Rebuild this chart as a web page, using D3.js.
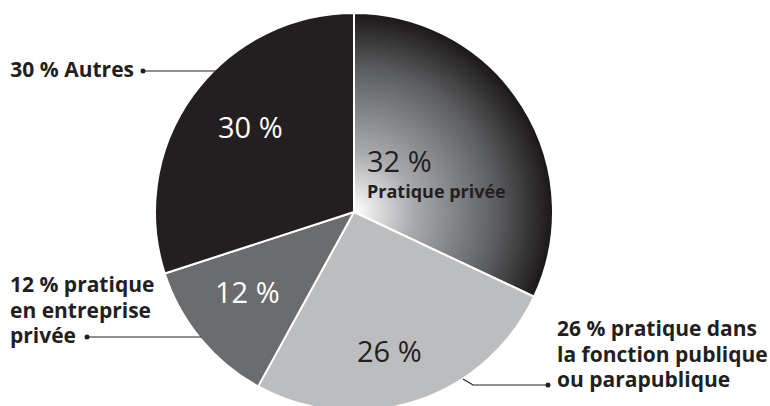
<!DOCTYPE html>
<html>
<head>
<meta charset="utf-8">
<script src="https://cdn.jsdelivr.net/npm/d3@7"></script>
<style>
  body { margin: 0; background: #fff; }
  svg text { font-family: "Open Sans", "Noto Sans", sans-serif; fill: #231f20; }
</style>
</head>
<body>
<svg id="chart" width="770" height="406"></svg>
<script>
// slice data, clockwise from 12 o'clock
var categories = ["Pratique privée", "Fonction publique ou parapublique", "Entreprise privée", "Autres"];
var values = [32, 26, 12, 30];
var sliceColors = ["url(#grad32)", "#bcbdbf", "#6b6c6e", "#231f20"];
var innerLabels = ["32 %", "26 %", "12 %", "30 %"];
var innerColors = ["#231f20", "#231f20", "#ffffff", "#ffffff"];

// outer callout texts
var calloutAutres = ["30 % Autres"];
var calloutEntreprise = ["12 % pratique", "en entreprise", "privée"];
var calloutPublique = ["26 % pratique dans", "la fonction publique", "ou parapublique"];

var svg = d3.select("#chart");
var cx = 354, cy = 212, radius = 199;

var defs = svg.append("defs");
// gradient lives in the translated group's space, so centre is 0,0
var grad = defs.append("radialGradient")
    .attr("id", "grad32")
    .attr("gradientUnits", "userSpaceOnUse")
    .attr("cx", 0).attr("cy", 0).attr("r", radius)
    .attr("fx", 0).attr("fy", 0);
grad.append("stop").attr("offset", "0").attr("stop-color", "#ffffff");
grad.append("stop").attr("offset", "0.3").attr("stop-color", "#a9aaac");
grad.append("stop").attr("offset", "0.72").attr("stop-color", "#5c5d5f");
grad.append("stop").attr("offset", "1").attr("stop-color", "#1a1718");

var pie = d3.pie().sort(null).value(function (d) { return d; });
var arc = d3.arc().innerRadius(0).outerRadius(radius);

var g = svg.append("g").attr("transform", "translate(" + cx + "," + cy + ")");

g.selectAll("path.slice")
    .data(pie(values))
    .enter().append("path")
    .attr("class", "slice")
    .attr("d", arc)
    .attr("fill", function (d, i) { return sliceColors[i]; })
    .attr("stroke", "#fff")
    .attr("stroke-width", 2)
    .attr("stroke-linejoin", "round");

// labels inside the slices
var innerPos = [[13, -40], [3, 150], [-139, 91], [-136, -74]];
g.selectAll("text.inner")
    .data(innerLabels)
    .enter().append("text")
    .attr("class", "inner")
    .attr("x", function (d, i) { return innerPos[i][0]; })
    .attr("y", function (d, i) { return innerPos[i][1]; })
    .style("fill", function (d, i) { return innerColors[i]; })
    .style("font-size", "29px")
    .style("font-weight", 500)
    .text(function (d) { return d; });

g.append("text")
    .attr("x", 13).attr("y", -14)
    .style("font-size", "18px")
    .style("font-weight", 700)
    .text(categories[0]);

// x on the circle edge at a given height
function edgeX(y, side) {
    var dy = y - cy;
    return cx + side * Math.sqrt(radius * radius - dy * dy);
}

function callout(lines, x, y0, anchor) {
    var t = svg.append("text")
        .attr("x", x).attr("y", y0)
        .attr("text-anchor", anchor)
        .style("font-size", "21px")
        .style("font-weight", 700);
    lines.forEach(function (l, i) {
        t.append("tspan").attr("x", x).attr("dy", i == 0 ? 0 : 25.5).text(l);
    });
}

var line = d3.line();

// Autres
callout(calloutAutres, 134, 77, "end");
svg.append("path")
    .attr("d", line([[143, 71], [edgeX(71, -1) + 2, 71]]))
    .attr("stroke", "#231f20").attr("fill", "none").attr("stroke-width", 1.2);
svg.append("circle").attr("cx", 143).attr("cy", 71).attr("r", 2.5).attr("fill", "#231f20");

// entreprise privee
callout(calloutEntreprise, 10, 292, "start");
svg.append("path")
    .attr("d", line([[87, 337], [edgeX(337, -1) + 2, 337]]))
    .attr("stroke", "#231f20").attr("fill", "none").attr("stroke-width", 1.2);
svg.append("circle").attr("cx", 87).attr("cy", 337).attr("r", 2.5).attr("fill", "#231f20");

// fonction publique
callout(calloutPublique, 557, 336, "start");
svg.append("path")
    .attr("d", line([[548, 385], [473, 385], [463, 379]]))
    .attr("stroke", "#231f20").attr("fill", "none").attr("stroke-width", 1.2);
svg.append("circle").attr("cx", 548).attr("cy", 385).attr("r", 2.5).attr("fill", "#231f20");
</script>
</body>
</html>
